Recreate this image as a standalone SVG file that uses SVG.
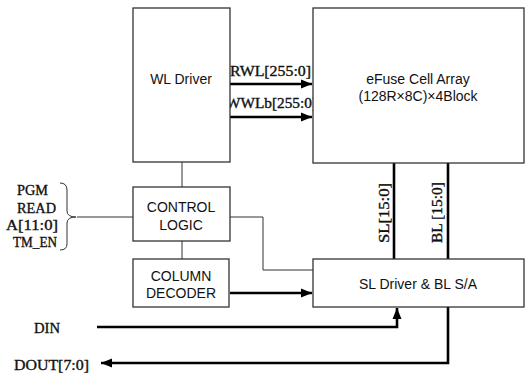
<svg xmlns="http://www.w3.org/2000/svg" width="525" height="376" viewBox="0 0 525 376">
<style>
.box{fill:#fff;stroke:#333;stroke-width:1.3}
.sans{font-family:"Liberation Sans",Arial,sans-serif;font-size:14px;fill:#111;text-anchor:middle}
.serif{font-family:"Liberation Serif","Times New Roman",serif;font-size:14px;fill:#111;stroke:#111;stroke-width:0.35}
.thick{fill:none;stroke:#000;stroke-width:2.6}
.thin{fill:none;stroke:#333;stroke-width:1}
</style>
<defs>
<marker id="ah" markerUnits="userSpaceOnUse" markerWidth="12" markerHeight="10" refX="11" refY="5" orient="auto">
<path d="M0,0.5 L11,5 L0,9.5 Z" fill="#000"/>
</marker>
</defs>
<rect width="525" height="376" fill="#fff"/>
<g id="connectors">
<line class="thin" x1="182" y1="162" x2="182" y2="187"/>
<line class="thin" x1="182" y1="241" x2="182" y2="259"/>
<polyline class="thin" points="230,217 263,217 263,270 313,270"/>
<line class="thin" x1="77" y1="217" x2="133" y2="217"/>
<line class="thick" x1="230" y1="84" x2="312" y2="84" marker-end="url(#ah)"/>
<line class="thick" x1="230" y1="117" x2="312" y2="117" marker-end="url(#ah)"/>
<line class="thick" x1="230" y1="293" x2="312" y2="293" marker-end="url(#ah)"/>
<line class="thick" x1="394" y1="163" x2="394" y2="259"/>
<line class="thick" x1="448" y1="163" x2="448" y2="259"/>
<polyline class="thick" points="97,327 397,327 397,308" marker-end="url(#ah)"/>
<polyline class="thick" points="448,307 448,363 101,363" marker-end="url(#ah)"/>
<path class="thin" d="M60,183 Q67,183 67,190 L67,211 Q67,217 76,217 Q67,217 67,223 L67,244 Q67,250 60,250"/>
<text class="serif" x="230" y="76" textLength="81" lengthAdjust="spacingAndGlyphs">RWL[255:0]</text>
<text class="serif" x="226" y="108" textLength="91" lengthAdjust="spacingAndGlyphs">WWLb[255:0]</text>
<text class="serif" transform="translate(389,243) rotate(-90)" textLength="60" lengthAdjust="spacingAndGlyphs">SL[15:0]</text>
<text class="serif" transform="translate(442,243) rotate(-90)" textLength="61" lengthAdjust="spacingAndGlyphs">BL [15:0]</text>
</g>
<g id="wl-driver">
<rect class="box" x="133" y="8" width="97" height="154"/>
<text class="sans" x="181" y="84">WL Driver</text>
</g>
<g id="efuse-array">
<rect class="box" x="313" y="8" width="211" height="155"/>
<text class="sans" x="418" y="84">eFuse Cell Array</text>
<text class="sans" x="418" y="101">(128R×8C)×4Block</text>
</g>
<g id="control-logic">
<rect class="box" x="133" y="187" width="97" height="54"/>
<text class="sans" x="181" y="212">CONTROL</text>
<text class="sans" x="181" y="230">LOGIC</text>
</g>
<g id="column-decoder">
<rect class="box" x="133" y="259" width="96" height="48"/>
<text class="sans" x="181" y="281">COLUMN</text>
<text class="sans" x="181" y="298">DECODER</text>
</g>
<g id="sl-driver">
<rect class="box" x="313" y="259" width="211" height="48"/>
<text class="sans" x="418" y="289">SL Driver &amp; BL S/A</text>
</g>
<g id="inputs">
<text class="serif" x="17" y="195" textLength="31" lengthAdjust="spacingAndGlyphs">PGM</text>
<text class="serif" x="17" y="213" textLength="39" lengthAdjust="spacingAndGlyphs">READ</text>
<text class="serif" x="6" y="230" textLength="52" lengthAdjust="spacingAndGlyphs">A[11:0]</text>
<text class="serif" x="13" y="247" textLength="44" lengthAdjust="spacingAndGlyphs">TM_EN</text>
<text class="serif" x="34" y="333" textLength="26" lengthAdjust="spacingAndGlyphs">DIN</text>
<text class="serif" x="14" y="370" textLength="75" lengthAdjust="spacingAndGlyphs">DOUT[7:0]</text>
</g>
</svg>
